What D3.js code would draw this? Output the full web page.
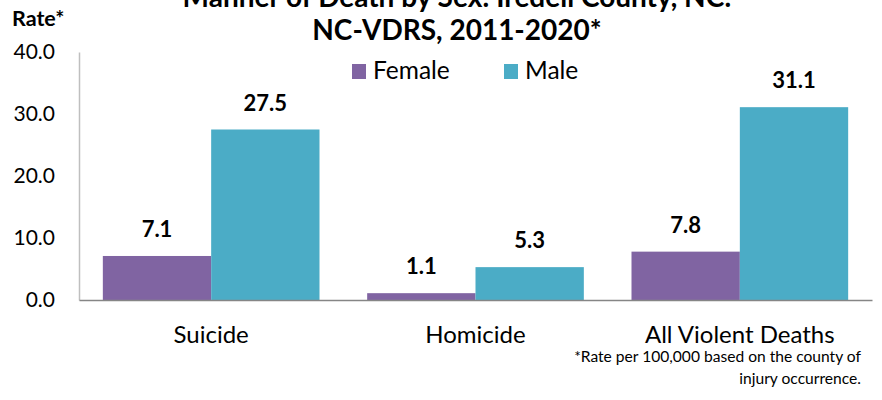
<!DOCTYPE html><html><head><meta charset="utf-8">
<script src="https://cdn.jsdelivr.net/npm/d3@7"></script>
<style>body{margin:0;background:#fff} svg{display:block} text{font-family:Lato, sans-serif}</style>
</head><body><svg id="c" width="882" height="400"></svg>
<script>
const categories=["Suicide","Homicide","All Violent Deaths"];
const seriesNames=["Female","Male"];
const female=[7.1,1.1,7.8];
const male=[27.5,5.3,31.1];
const yTicks=[0,10,20,30,40];
const titleLines=["Manner of Death by Sex: Iredell County, NC:","NC-VDRS, 2011-2020*"];
const yLabel="Rate*";
const footnote=["*Rate per 100,000 based on the county of","injury occurrence."];
const colors=["#8064A2","#4BACC6"];

const svg=d3.select("#c");
const L=79,R=872,T=52,B=300;
const x0=d3.scaleBand().domain(categories).range([L,R]).padding(0);
const bw=x0.bandwidth(), w=bw/2.44, gap=(bw-2*w)/2;
const x1=d3.scaleBand().domain(seriesNames).range([gap,bw-gap]).padding(0);
const y=d3.scaleLinear().domain([0,40]).range([B,T]);
const series=[female,male];

// bars
const g=svg.append("g");
categories.forEach((c,i)=>{
  seriesNames.forEach((s,j)=>{
    const v=series[j][i];
    g.append("rect").attr("x",x0(c)+x1(s)).attr("y",y(v)).attr("width",x1.bandwidth()).attr("height",y(0)-y(v)).attr("fill",colors[j]);
    g.append("text").attr("x",x0(c)+x1(s)+x1.bandwidth()/2).attr("y",y(v)-19)
      .attr("text-anchor","middle").attr("font-weight","bold").attr("font-size",22).attr("fill","#000").text(d3.format(".1f")(v));
  });
});

// y axis
const ya=svg.append("g").attr("transform",`translate(${L},0)`)
  .call(d3.axisLeft(y).tickValues(yTicks).tickFormat(d3.format(".1f")).tickSize(0).tickPadding(24));
ya.select(".domain").attr("stroke","#BFBFBF").attr("stroke-width",1.5);
ya.selectAll("text").attr("font-size",21).attr("fill","#000").attr("font-family","Lato, sans-serif");

// x axis
const xa=svg.append("g").attr("transform",`translate(0,${B})`)
  .call(d3.axisBottom(x0).tickSize(0).tickSizeOuter(0));
xa.select(".domain").attr("stroke","#868686").attr("stroke-width",1.5);
xa.selectAll("text").attr("font-size",24).attr("fill","#000").attr("font-family","Lato, sans-serif").attr("dy",0).attr("y",43);

// title
svg.append("g").selectAll("text").data(titleLines).join("text")
  .attr("x",457).attr("y",(d,i)=>7+i*33).attr("text-anchor","middle").attr("font-weight","bold").attr("font-size",28).text(d=>d);
svg.append("text").attr("x",12).attr("y",26).attr("font-weight","bold").attr("font-size",21.5).text(yLabel);

// legend
const lx=[352,504];
seriesNames.forEach((s,j)=>{
  svg.append("rect").attr("x",lx[j]).attr("y",64).attr("width",14).attr("height",15).attr("fill",colors[j]);
  svg.append("text").attr("x",lx[j]+21).attr("y",79).attr("font-size",24.5).text(s);
});

// footnote
svg.append("g").selectAll("text").data(footnote).join("text")
  .attr("x",861).attr("y",(d,i)=>362+i*21.5).attr("text-anchor","end").attr("font-size",15.6).text(d=>d);
</script></body></html>
